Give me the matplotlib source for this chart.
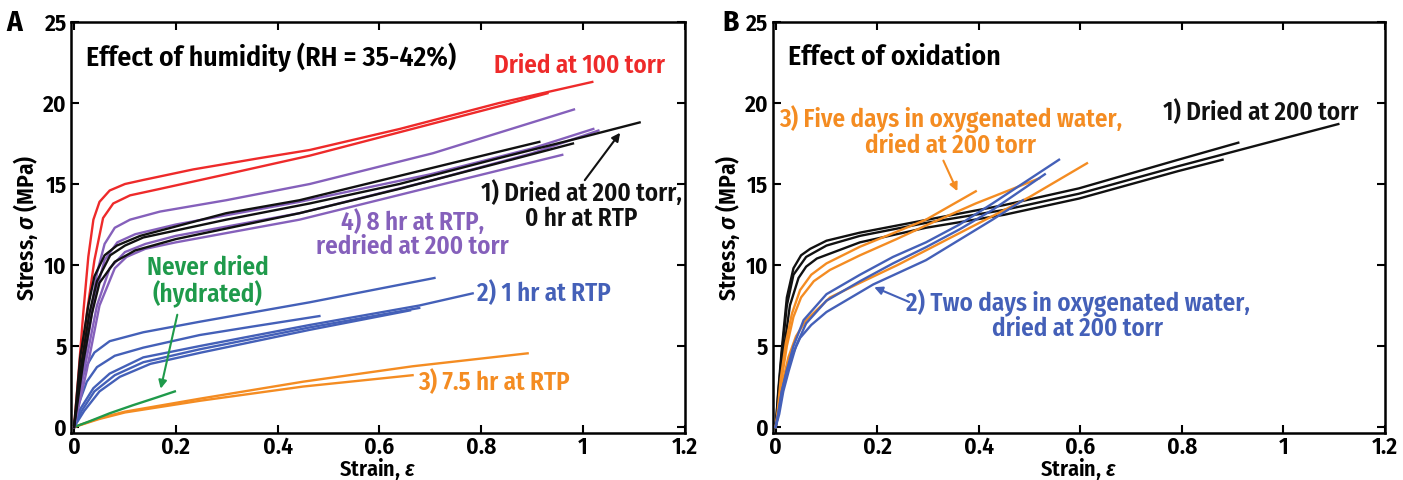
import matplotlib
matplotlib.use("Agg")
import matplotlib.pyplot as plt
from matplotlib import font_manager

# --- fonts -------------------------------------------------------------
names = {f.name for f in font_manager.fontManager.ttflist}
FONT = "DejaVu Sans"
for cand in ["Fira Sans Condensed", "Open Sans Condensed", "Roboto Condensed", "Asap Condensed"]:
    if cand in names:
        FONT = cand
        break
plt.rcParams["font.family"] = [FONT, "DejaVu Sans"]
plt.rcParams["font.weight"] = "semibold"
plt.rcParams["axes.labelweight"] = "semibold"
plt.rcParams["mathtext.fontset"] = "custom"
plt.rcParams["mathtext.it"] = FONT + ":italic:semibold"
plt.rcParams["mathtext.rm"] = FONT + ":semibold"

# --- colours -----------------------------------------------------------
RED = "#ee2a2a"
PURPLE = "#8560bb"
BLACK = "#111111"
BLUE = "#4460b8"
ORANGE = "#f48c22"
GREEN = "#1f9a4b"

# --- panel A : effect of humidity (strain, stress MPa) -----------------
red_strain = [
    [0, 0.008, 0.018, 0.028, 0.038, 0.05, 0.07, 0.1, 0.136, 0.234, 0.365, 0.463, 0.64, 0.835, 1.018],
    [0, 0.012, 0.025, 0.04, 0.057, 0.077, 0.11, 0.169, 0.299, 0.463, 0.64, 0.835, 0.93],
]
red_stress = [
    [0, 3, 7, 10.5, 12.8, 13.9, 14.6, 15.0, 15.25, 15.9, 16.6, 17.1, 18.4, 20.0, 21.3],
    [0, 3, 7, 10.3, 12.9, 13.8, 14.3, 14.7, 15.6, 16.75, 18.2, 19.8, 20.6],
]

purple_strain = [
    [0, 0.015, 0.03, 0.045, 0.06, 0.08, 0.11, 0.169, 0.299, 0.463, 0.705, 0.982],
    [0, 0.02, 0.04, 0.06, 0.085, 0.12, 0.2, 0.443, 0.7, 0.9, 1.02],
    [0, 0.02, 0.045, 0.07, 0.1, 0.14, 0.2, 0.443, 0.7, 0.9, 1.03],
    [0, 0.025, 0.05, 0.08, 0.103, 0.14, 0.2, 0.443, 0.7, 0.959],
]
purple_stress = [
    [0, 3, 6.5, 9.5, 11.3, 12.3, 12.8, 13.3, 14.0, 15.0, 16.9, 19.6],
    [0, 4, 8, 10.3, 11.4, 11.9, 12.5, 13.9, 15.6, 17.2, 18.4],
    [0, 3.5, 7.5, 9.8, 10.8, 11.3, 11.8, 13.2, 15.2, 16.9, 18.3],
    [0, 3.5, 7.5, 9.8, 10.5, 11.0, 11.4, 12.8, 14.8, 16.8],
]

black_strain = [
    [0, 0.012, 0.028, 0.04, 0.06, 0.084, 0.13, 0.299, 0.443, 0.639, 0.835, 0.914],
    [0, 0.015, 0.03, 0.045, 0.071, 0.1, 0.136, 0.299, 0.463, 0.639, 0.835, 1.0, 1.111],
    [0, 0.018, 0.035, 0.05, 0.08, 0.12, 0.2, 0.443, 0.639, 0.835, 0.98],
]
black_stress = [
    [0, 4.3, 7.5, 9.3, 10.6, 11.2, 11.8, 13.2, 14.0, 15.5, 17.0, 17.6],
    [0, 4.0, 7.0, 9.0, 10.6, 11.2, 11.7, 12.8, 13.8, 15.0, 16.6, 17.9, 18.8],
    [0, 4.0, 7.0, 8.9, 10.2, 10.9, 11.6, 13.2, 14.7, 16.3, 17.5],
]

blue_strain = [
    [0, 0.006, 0.012, 0.025, 0.04, 0.07, 0.136, 0.247, 0.463, 0.708],
    [0, 0.01, 0.025, 0.045, 0.08, 0.136, 0.247, 0.35, 0.482],
    [0, 0.012, 0.038, 0.07, 0.136, 0.247, 0.463, 0.678, 0.783],
    [0, 0.015, 0.04, 0.08, 0.136, 0.247, 0.463, 0.678],
    [0, 0.02, 0.05, 0.09, 0.15, 0.25, 0.463, 0.66],
]
blue_stress = [
    [0, 1.5, 2.7, 3.8, 4.6, 5.3, 5.85, 6.5, 7.7, 9.2],
    [0, 1.5, 2.8, 3.7, 4.4, 4.9, 5.68, 6.2, 6.85],
    [0, 1.1, 2.4, 3.3, 4.3, 5.0, 6.3, 7.5, 8.25],
    [0, 1.0, 2.2, 3.2, 4.0, 4.8, 6.15, 7.35],
    [0, 1.0, 2.2, 3.1, 3.9, 4.6, 6.0, 7.2],
]

orange_strain = [
    [0, 0.05, 0.1, 0.247, 0.45, 0.665, 0.891],
    [0, 0.05, 0.1, 0.247, 0.45, 0.665],
]
orange_stress = [
    [0, 0.55, 0.95, 1.75, 2.8, 3.75, 4.55],
    [0, 0.5, 0.9, 1.62, 2.5, 3.2],
]

green_strain = [0, 0.03, 0.07, 0.116, 0.16, 0.198]
green_stress = [0, 0.35, 0.85, 1.35, 1.8, 2.2]

# --- panel B : effect of oxidation -------------------------------------
b_black_strain = [
    [0, 0.005, 0.012, 0.022, 0.035, 0.06, 0.1, 0.166, 0.296, 0.45, 0.597, 0.793, 0.95, 1.108],
    [0, 0.005, 0.012, 0.022, 0.035, 0.05, 0.068, 0.1, 0.166, 0.296, 0.45, 0.597, 0.793, 0.911],
    [0, 0.007, 0.015, 0.028, 0.045, 0.06, 0.081, 0.166, 0.296, 0.45, 0.597, 0.793, 0.88],
]
b_black_stress = [
    [0, 2, 4.5, 7.5, 9.4, 10.5, 11.2, 11.8, 12.6, 13.4, 14.4, 16.1, 17.4, 18.7],
    [0, 2.2, 4.8, 8.0, 9.8, 10.6, 11.0, 11.5, 12.0, 12.78, 13.7, 14.73, 16.5, 17.55],
    [0, 2, 4.5, 7.5, 9.2, 9.9, 10.4, 11.4, 12.3, 13.1, 14.1, 15.8, 16.5],
]

b_orange_strain = [
    [0, 0.004, 0.01, 0.02, 0.032, 0.048, 0.07, 0.1, 0.166, 0.231, 0.296, 0.394],
    [0, 0.005, 0.012, 0.022, 0.035, 0.05, 0.075, 0.107, 0.166, 0.238, 0.3, 0.394, 0.519],
    [0, 0.006, 0.014, 0.025, 0.04, 0.06, 0.107, 0.166, 0.24, 0.37, 0.5, 0.613],
]
b_orange_stress = [
    [0, 1, 3, 5.2, 7, 8.45, 9.4, 10.1, 11.13, 11.96, 12.8, 14.55],
    [0, 1, 3, 5.0, 6.8, 8.0, 9.0, 9.7, 10.6, 11.6, 12.5, 13.8, 15.35],
    [0, 1, 2.8, 4.3, 5.6, 6.6, 8.0, 8.9, 10.0, 12.1, 14.2, 16.28],
]

b_blue_strain = [
    [0, 0.005, 0.012, 0.022, 0.035, 0.055, 0.1, 0.166, 0.231, 0.296, 0.362, 0.427, 0.558],
    [0, 0.007, 0.015, 0.026, 0.04, 0.06, 0.1, 0.166, 0.231, 0.296, 0.362, 0.427, 0.53],
    [0, 0.005, 0.012, 0.022, 0.035, 0.048, 0.07, 0.1, 0.192, 0.296, 0.427, 0.487],
]
b_blue_stress = [
    [0, 0.8, 2.2, 3.5, 5.0, 6.6, 8.2, 9.4, 10.5, 11.4, 12.5, 13.8, 16.5],
    [0, 0.8, 2.2, 3.5, 5.0, 6.4, 7.8, 9.0, 10.1, 11.1, 12.2, 13.4, 15.6],
    [0, 0.8, 2.2, 3.5, 4.6, 5.5, 6.3, 7.1, 8.8, 10.3, 12.8, 14.0],
]

x_ticks = [0, 0.2, 0.4, 0.6, 0.8, 1.0, 1.2]
x_labels = ["0", "0.2", "0.4", "0.6", "0.8", "1", "1.2"]
y_ticks = [0, 5, 10, 15, 20, 25]


def draw_group(ax, xs, ys, color):
    for x, y in zip(xs, ys):
        ax.plot(x, y, color=color, lw=1.7, solid_joinstyle="round", zorder=3)


def style_axes(ax):
    ax.set_xlim(-0.006, 1.2)
    ax.set_ylim(-0.35, 25)
    ax.set_xticks(x_ticks)
    ax.set_xticklabels(x_labels)
    ax.set_yticks(y_ticks)
    ax.tick_params(direction="in", top=True, right=True, length=6, width=1.5,
                   labelsize=17, pad=3)
    ax.tick_params(axis="x", pad=2)
    for s in ax.spines.values():
        s.set_linewidth(1.8)
    ax.set_xlabel("Strain, $\\mathit{\\varepsilon}$", fontsize=16, labelpad=-2)
    ax.set_ylabel("Stress, $\\mathit{\\sigma}$ (MPa)", fontsize=17, labelpad=2)


fig = plt.figure(figsize=(14.03, 4.8), dpi=100)
axA = fig.add_axes([0.0506, 0.0985, 0.4376, 0.8557])
axB = fig.add_axes([0.5507, 0.0985, 0.4365, 0.8557])

# panel A
draw_group(axA, orange_strain, orange_stress, ORANGE)
axA.plot(green_strain, green_stress, color=GREEN, lw=1.7, zorder=3)
draw_group(axA, blue_strain, blue_stress, BLUE)
draw_group(axA, red_strain, red_stress, RED)
draw_group(axA, purple_strain, purple_stress, PURPLE)
draw_group(axA, black_strain, black_stress, BLACK)
style_axes(axA)

LS = 18
axA.text(0.025, 0.915, "Effect of humidity (RH = 35-42%)", transform=axA.transAxes,
         fontsize=20, va="center", ha="left")
axA.text(0.993, 22.3, "Dried at 100 torr", color=RED, fontsize=LS, ha="center", va="center")
axA.text(0.997, 13.65, "1) Dried at 200 torr,\n0 hr at RTP", color=BLACK, fontsize=LS,
         ha="center", va="center", linespacing=1.0)
axA.text(0.665, 11.9, "4) 8 hr at RTP,\nredried at 200 torr", color=PURPLE, fontsize=LS,
         ha="center", va="center", linespacing=1.0)
axA.text(0.262, 8.95, "Never dried\n(hydrated)", color=GREEN, fontsize=LS,
         ha="center", va="center", linespacing=1.0)
axA.text(0.792, 8.25, "2) 1 hr at RTP", color=BLUE, fontsize=LS, ha="left", va="center")
axA.text(0.675, 2.75, "3) 7.5 hr at RTP", color=ORANGE, fontsize=LS, ha="left", va="center")
axA.annotate("", xy=(1.076, 18.3), xytext=(1.0, 15.1),
             arrowprops=dict(arrowstyle="-|>", color=BLACK, lw=1.5, mutation_scale=12))
axA.annotate("", xy=(0.169, 2.2), xytext=(0.204, 7.1),
             arrowprops=dict(arrowstyle="-|>", color=GREEN, lw=1.5, mutation_scale=12))

# panel B
draw_group(axB, b_black_strain, b_black_stress, BLACK)
draw_group(axB, b_orange_strain, b_orange_stress, ORANGE)
draw_group(axB, b_blue_strain, b_blue_stress, BLUE)
style_axes(axB)

axB.text(0.025, 0.915, "Effect of oxidation", transform=axB.transAxes,
         fontsize=20, va="center", ha="left")
axB.text(0.955, 19.4, "1) Dried at 200 torr", color=BLACK, fontsize=LS, ha="center", va="center")
axB.text(0.345, 18.25, "3) Five days in oxygenated water,\ndried at 200 torr", color=ORANGE,
         fontsize=LS, ha="center", va="center", linespacing=1.0)
axB.text(0.595, 6.9, "2) Two days in oxygenated water,\ndried at 200 torr", color=BLUE,
         fontsize=LS, ha="center", va="center", linespacing=1.0)
axB.annotate("", xy=(0.36, 14.4), xytext=(0.328, 16.6),
             arrowprops=dict(arrowstyle="-|>", color=ORANGE, lw=1.5, mutation_scale=12))
axB.annotate("", xy=(0.189, 8.7), xytext=(0.268, 7.65),
             arrowprops=dict(arrowstyle="-|>", color=BLUE, lw=1.5, mutation_scale=12))

fig.text(0.010, 0.952, "A", fontsize=21, ha="center", va="center", fontweight="bold")
fig.text(0.521, 0.952, "B", fontsize=21, ha="center", va="center", fontweight="bold")

fig.savefig("out.png", dpi=100)
